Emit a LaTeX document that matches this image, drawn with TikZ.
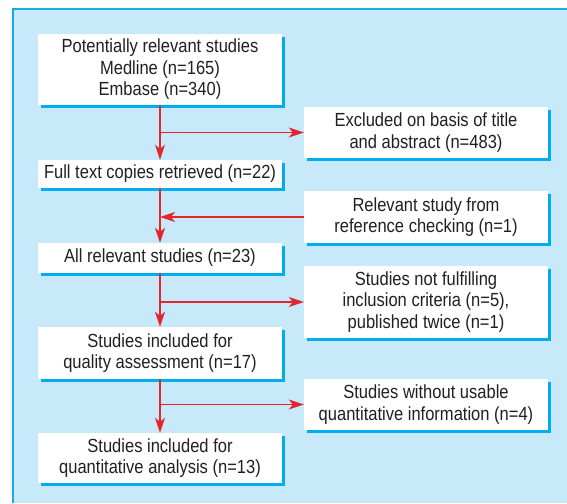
\documentclass[tikz,border=0pt]{standalone}
\usepackage{fontspec}
\setmainfont{Liberation Sans}[FakeStretch=0.87]
\usetikzlibrary{arrows.meta,shadows}
\definecolor{panel}{HTML}{C7E9F9}
\definecolor{frame}{HTML}{1BA9E1}
\definecolor{shade}{HTML}{00AEEF}
\definecolor{flow}{HTML}{E3262E}
\definecolor{ink}{HTML}{231F20}
\tikzset{
  stepbox/.style={fill=white, draw=none, text=ink, align=center, minimum width=244pt, inner sep=2pt,
    font=\fontsize{19}{21.5}\selectfont,
    drop shadow={shadow xshift=3pt, shadow yshift=-3pt, fill=shade, opacity=1}},
  flowline/.style={draw=flow, line width=1.5pt, -{Stealth[length=15pt,width=10pt,inset=4pt]}}
}

\begin{document}
\begin{tikzpicture}[x=1pt,y=-1pt]
  \useasboundingbox (0,0) rectangle (567,503);
  % panel
  \fill[panel] (13,9) rectangle (567,503);
  \draw[frame, line width=2pt] (13,503) -- (13,9) -- (567,9);

  % main column
  \node[stepbox, minimum height=71pt] (search) at (160,69.5) {Potentially relevant studies\\Medline (n=165)\\Embase (n=340)};
  \node[stepbox, minimum height=28pt] (full) at (160,174) {Full text copies retrieved (n=22)};
  \node[stepbox, minimum height=30pt] (all) at (160,258) {All relevant studies (n=23)};
  \node[stepbox, minimum height=52pt] (qual) at (160,353) {Studies included for\\quality assessment (n=17)};
  \node[stepbox, minimum height=50pt] (quant) at (160,458) {Studies included for\\quantitative analysis (n=13)};

  % side boxes
  \node[stepbox, minimum height=51pt] (excl) at (426,132.5) {Excluded on basis of title\\and abstract (n=483)};
  \node[stepbox, minimum height=52pt] (refchk) at (426,217) {Relevant study from\\reference checking (n=1)};
  \node[stepbox, minimum height=72pt] (notfit) at (426,302) {Studies not fulfilling\\inclusion criteria (n=5),\\published twice (n=1)};
  \node[stepbox, minimum height=51pt] (nouse) at (426,404.5) {Studies without usable\\quantitative information (n=4)};

  % flow
  \draw[flowline] (search) -- (full);
  \draw[flowline] (full) -- (all);
  \draw[flowline] (all) -- (qual);
  \draw[flowline] (qual) -- (quant);

  \draw[flowline] (search.south |- excl) -- (excl.west);
  \draw[flowline] (refchk.west) -- (refchk -| full.south);
  \draw[flowline] (all.south |- notfit) -- (notfit.west);
  \draw[flowline] (qual.south |- nouse) -- (nouse.west);
\end{tikzpicture}
\end{document}
